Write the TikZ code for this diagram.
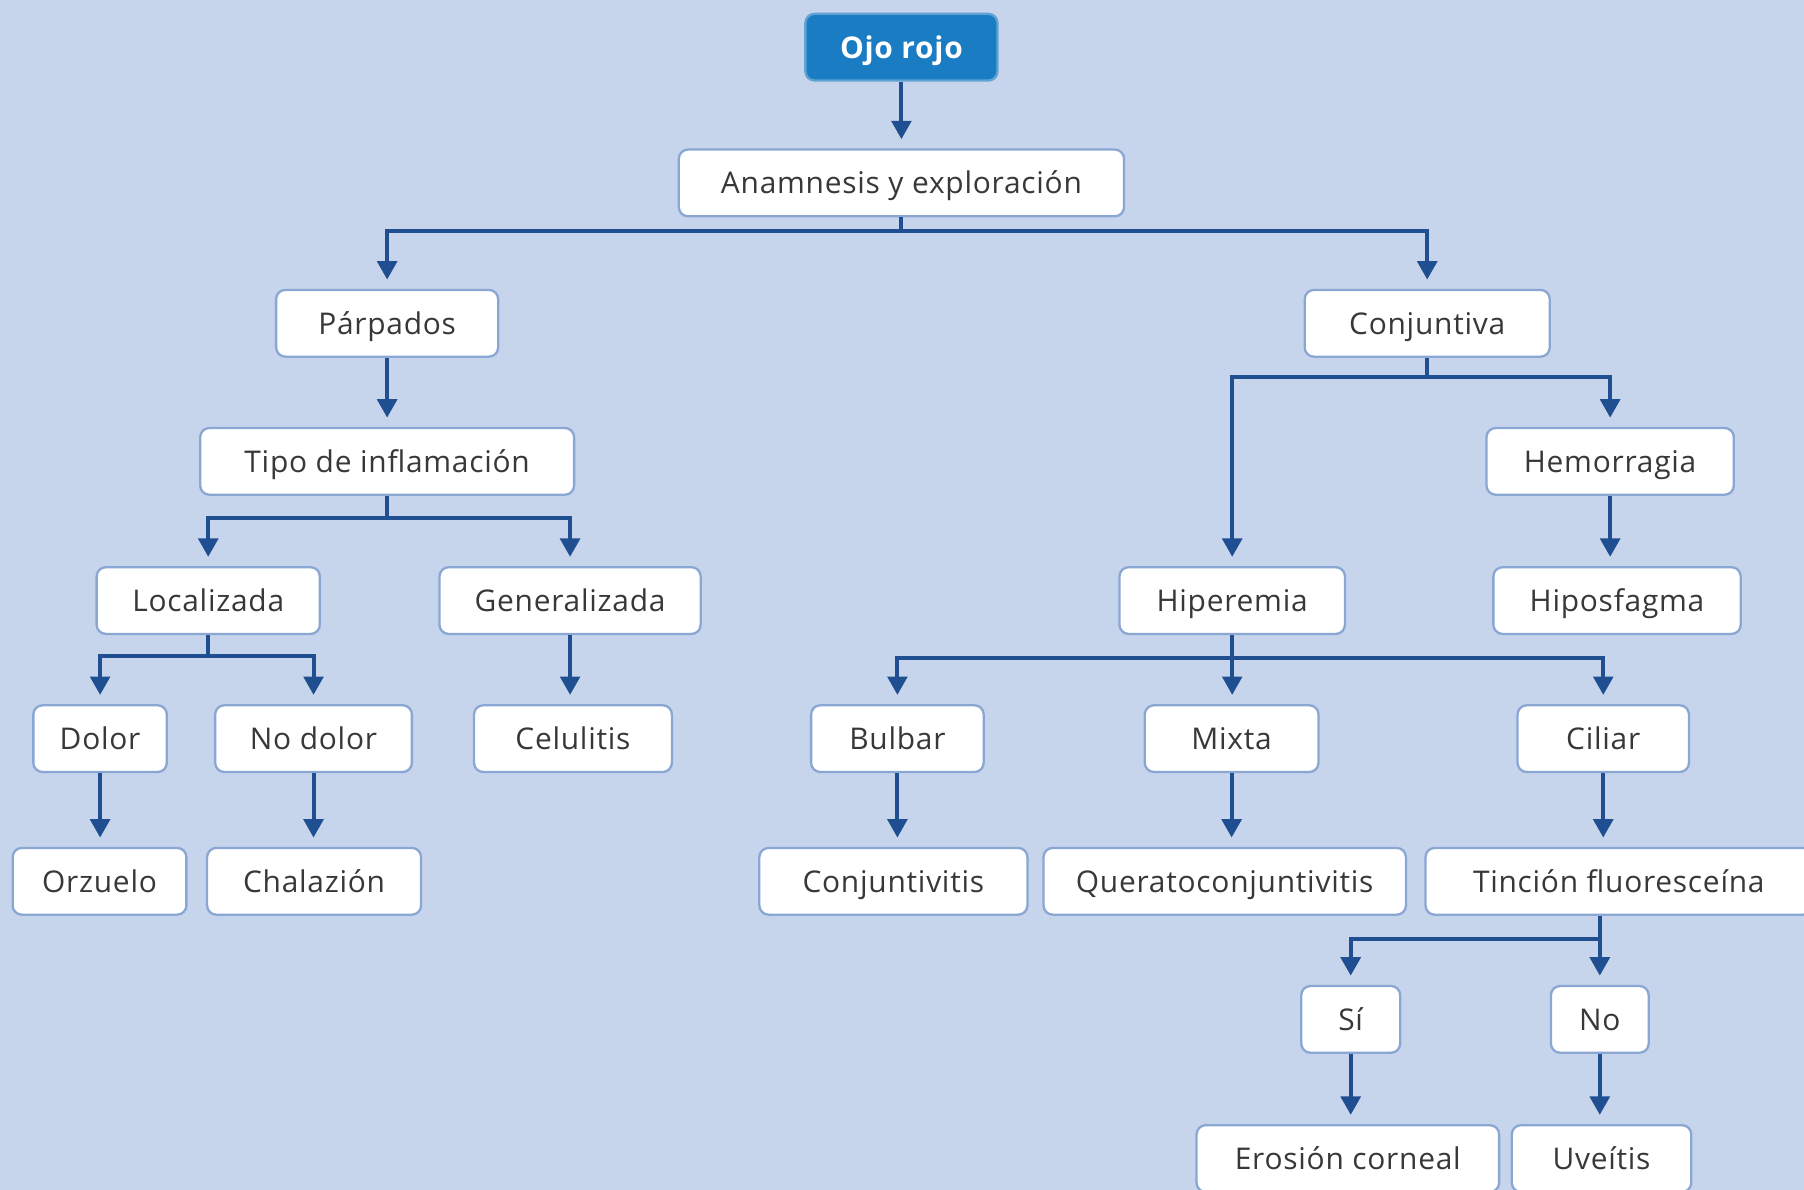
\documentclass[tikz,border=0pt]{standalone}
\usepackage{fontspec}
\setmainfont[LetterSpace=2.5]{Open Sans}
\usetikzlibrary{arrows.meta}
\definecolor{bgc}{HTML}{C6D4EC}
\definecolor{bordc}{HTML}{8AA7D4}
\definecolor{arrc}{HTML}{1F4F90}
\definecolor{headc}{HTML}{1A7CC2}
\definecolor{txtc}{HTML}{383838}
\tikzset{
  box/.style={draw=bordc, line width=2pt, fill=white, rounded corners=8pt,
    minimum height=58pt, inner sep=0pt, text height=19pt, text depth=0pt,
    text=txtc, font=\fontsize{26}{30}\selectfont},
  headbox/.style={box, draw=headc!70!white, fill=headc, text=white, font=\fontsize{26}{30}\selectfont\bfseries},
  conn/.style={draw=arrc, line width=3.5pt},
  arr/.style={conn, -{Triangle[length=16pt, width=17pt, fill=arrc]}, shorten >=8pt},
}
\begin{document}
\begin{tikzpicture}[x=1pt, y=-1pt]
\useasboundingbox (0,0) rectangle (1568,1034);
\clip (0,0) rectangle (1568,1034);
\fill[bgc] (-5,-5) rectangle (1575,1040);
% nodes
\node[headbox, minimum width=167pt] (ojo) at (783.5,41) {Ojo rojo};
\node[box, minimum width=387pt] (anam) at (783.5,159) {Anamnesis y exploración};
\node[box, minimum width=193pt] (parp) at (336.5,281) {Párpados};
\node[box, minimum width=213pt] (conj) at (1240.5,281) {Conjuntiva};
\node[box, minimum width=325pt] (tipo) at (336.5,401) {Tipo de inflamación};
\node[box, minimum width=215pt] (hemo) at (1399.5,401) {Hemorragia};
\node[box, minimum width=194pt] (loc) at (181,522) {Localizada};
\node[box, minimum width=227pt] (gen) at (495.5,522) {Generalizada};
\node[box, minimum width=196pt] (hipe) at (1071,522) {Hiperemia};
\node[box, minimum width=215pt] (hipo) at (1405.5,522) {Hiposfagma};
\node[box, minimum width=116pt] (dolor) at (87,642) {Dolor};
\node[box, minimum width=171pt] (nodolor) at (272.5,642) {No dolor};
\node[box, minimum width=172pt] (celu) at (498,642) {Celulitis};
\node[box, minimum width=150pt] (bulbar) at (780,642) {Bulbar};
\node[box, minimum width=151pt] (mixta) at (1070.5,642) {Mixta};
\node[box, minimum width=149pt] (ciliar) at (1393.5,642) {Ciliar};
\node[box, minimum width=151pt] (orz) at (86.5,766) {Orzuelo};
\node[box, minimum width=186pt] (chal) at (273,766) {Chalazión};
\node[box, minimum width=233pt] (conjv) at (776.5,766) {Conjuntivitis};
\node[box, minimum width=315pt] (quer) at (1064.5,766) {Queratoconjuntivitis};
\node[box, minimum width=336pt] (tinc) at (1407,766) {Tinción fluoresceína};
\node[box, minimum width=86pt] (si) at (1174,886) {Sí};
\node[box, minimum width=85pt] (no) at (1390.5,886) {No};
\node[box, minimum width=263pt] (eros) at (1171.5,1007) {Erosión corneal};
\node[box, minimum width=156pt] (uve) at (1392,1007) {Uveítis};
% connectors
\draw[arr] (ojo.south) -- (anam.north);
\draw[arr] (anam.south) -- ++(0,12) -| (parp.north);
\draw[arr] (anam.south) -- ++(0,12) -| (conj.north);
\draw[arr] (parp.south) -- (tipo.north);
\draw[arr] (tipo.south) -- ++(0,19) -| (loc.north);
\draw[arr] (tipo.south) -- ++(0,19) -| (gen.north);
\draw[arr] (conj.south) -- ++(0,17) -| (hemo.north);
\draw[arr] (conj.south) -- ++(0,17) -| (hipe.north);
\draw[arr] (hemo.south) -- (hemo.south |- hipo.north);
\draw[arr] (loc.south) -- ++(0,18) -| (dolor.north);
\draw[arr] (loc.south) -- ++(0,18) -| (nodolor.north);
\draw[arr] (gen.south) -- (gen.south |- celu.north);
\draw[arr] (hipe.south) -- ++(0,20) -| (bulbar.north);
\draw[arr] (hipe.south) -- ++(0,20) -| (ciliar.north);
\draw[arr] (hipe.south) -- (hipe.south |- mixta.north);
\draw[arr] (dolor.south) -- (dolor.south |- orz.north);
\draw[arr] (nodolor.south) -- (nodolor.south |- chal.north);
\draw[arr] (bulbar.south) -- (bulbar.south |- conjv.north);
\draw[arr] (mixta.south) -- (mixta.south |- quer.north);
\draw[arr] (ciliar.south) -- (ciliar.south |- tinc.north);
\draw[arr] (tinc.south -| no.north) -- ++(0,20) -| (si.north);
\draw[arr] (tinc.south -| no.north) -- (no.north);
\draw[arr] (si.south) -- (si.south |- eros.north);
\draw[arr] (no.south) -- (no.south |- uve.north);
\end{tikzpicture}
\end{document}
